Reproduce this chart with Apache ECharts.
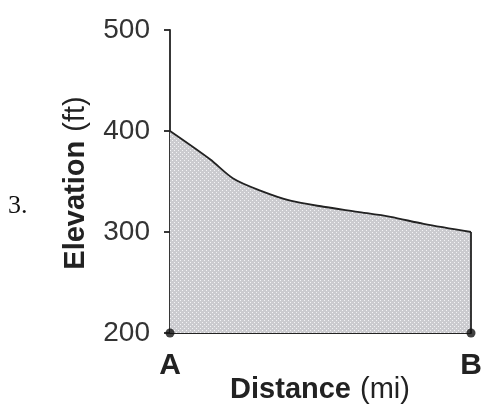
<!DOCTYPE html>
<html><head><meta charset="utf-8">
<script src="https://cdn.jsdelivr.net/npm/echarts@6/dist/echarts.min.js"></script>
<style>html,body{margin:0;padding:0;background:#fff}#c{width:501px;height:413px}</style>
</head><body><div id="c"></div>
<script>
var distance = [0, 1.33, 2.1, 3.0, 4.0, 5.1, 6.23, 7.33, 8.43, 10];
var elevation = [400, 372, 353, 341, 331, 325, 320, 315, 308, 300];
var yTicks = [200, 300, 400, 500];
var endLabels = {0: 'A', 10: 'B'};

var pc = document.createElement('canvas');
pc.width = 4; pc.height = 4;
var g = pc.getContext('2d');
g.fillStyle = '#cbcbcf'; g.fillRect(0,0,4,4);
g.fillStyle = '#f4f4f6'; g.fillRect(0,0,1,1); g.fillRect(2,2,1,1);

var pts = distance.map(function(d,i){return [d, elevation[i]];});
var chart = echarts.init(document.getElementById('c'));
chart.setOption({
  animation: false,
  grid: {left: 170, right: 30, top: 30, bottom: 80},
  xAxis: {
    type: 'value', min: 0, max: 10, interval: 10,
    axisLine: {lineStyle: {color: '#222', width: 1.8}},
    axisTick: {show: false}, splitLine: {show: false},
    axisLabel: {formatter: function(v){return endLabels[v] || '';}, fontFamily: 'Liberation Sans', fontWeight: 'bold', fontSize: 30, color: '#222', margin: 18}
  },
  yAxis: {
    type: 'value', min: yTicks[0], max: yTicks[yTicks.length-1], interval: 100,
    axisLine: {show: true, lineStyle: {color: '#222', width: 1.8}},
    axisTick: {show: true, length: 6, lineStyle: {color: '#222', width: 1.8}},
    splitLine: {show: false},
    axisLabel: {fontFamily: 'Liberation Sans', fontSize: 28, color: '#333', margin: 20}
  },
  graphic: [
    {type: 'text', x: 8, y: 206, style: {text: '{t|3.}', verticalAlign: 'middle',
      rich: {t: {fontFamily: 'Liberation Serif', fontSize: 26, fill: '#111'}}}},
    {type: 'text', x: 76, y: 183, rotation: Math.PI/2, style: {
      text: '{b|Elevation}{n|(ft)}', align: 'center', verticalAlign: 'middle',
      rich: {b: {fontFamily: 'Liberation Sans', fontWeight: 'bold', fontSize: 29, fill: '#222'}, n: {fontFamily: 'Liberation Sans', fontSize: 29, fill: '#222', padding: [0, 0, 0, 9]}}
    }},
    {type: 'text', x: 320, y: 390, style: {
      text: '{b|Distance}{n|(mi)}', align: 'center', verticalAlign: 'middle',
      rich: {b: {fontFamily: 'Liberation Sans', fontWeight: 'bold', fontSize: 29, fill: '#222'}, n: {fontFamily: 'Liberation Sans', fontSize: 29, fill: '#222', padding: [0, 0, 0, 9]}}
    }}
  ],
  series: [
    {type: 'line', data: pts, smooth: 0.3, showSymbol: false,
     lineStyle: {color: '#222', width: 1.8},
     areaStyle: {color: {image: pc, repeat: 'repeat'}, opacity: 1}},
    {type: 'line', data: [[10, elevation[elevation.length-1]], [10, 200]], showSymbol: false,
     lineStyle: {color: '#222', width: 1.8}},
    {type: 'scatter', data: [[0, 200], [10, 200]], symbolSize: 9, itemStyle: {color: '#111'}, z: 5}
  ]
});
</script></body></html>
